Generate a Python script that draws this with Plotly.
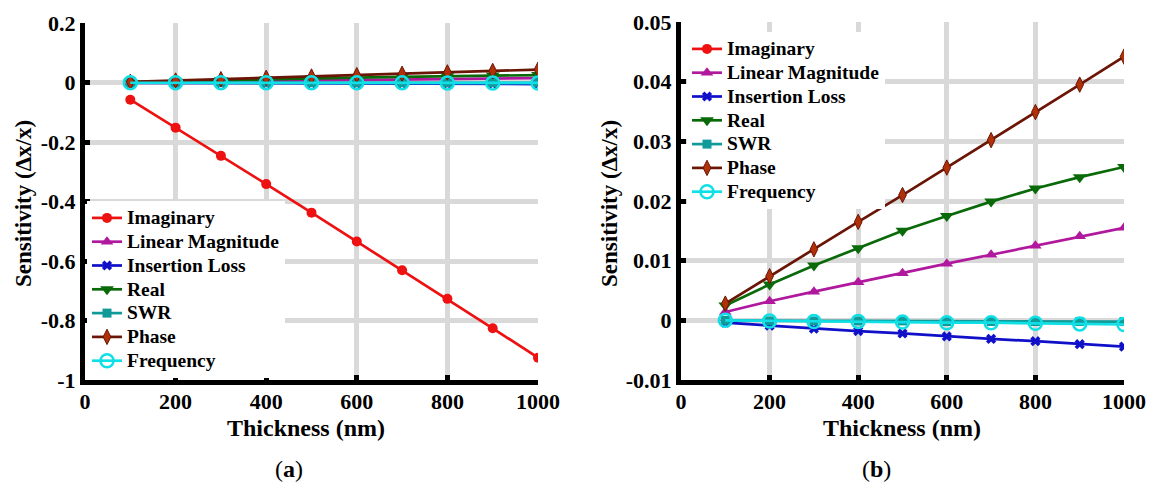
import plotly.graph_objects as go

thickness = [100, 200, 300, 400, 500, 600, 700, 800, 900, 1000]

imaginary = [-0.057, -0.151, -0.246, -0.341, -0.437, -0.534, -0.631, -0.727, -0.826, -0.925]
linear_magnitude = [0.0014, 0.0032, 0.0048, 0.0064, 0.0079, 0.0095, 0.0110, 0.0125, 0.0141, 0.0155]
insertion_loss = [-0.0004, -0.0009, -0.0014, -0.0018, -0.0022, -0.0027, -0.0031, -0.0035, -0.0040, -0.0044]
real = [0.0025, 0.0060, 0.0092, 0.0121, 0.0150, 0.0175, 0.0199, 0.0221, 0.0240, 0.0257]
swr = [0.0000, -0.0001, -0.0001, -0.0001, -0.0001, -0.0002, -0.0002, -0.0002, -0.0002, -0.0002]
phase = [0.0028, 0.0074, 0.0119, 0.0165, 0.0210, 0.0256, 0.0302, 0.0349, 0.0395, 0.0442]
frequency = [0.0000, -0.0001, -0.0002, -0.0002, -0.0003, -0.0004, -0.0004, -0.0005, -0.0006, -0.0007]

x_ticks = [0, 200, 400, 600, 800, 1000]
x_ticktext = ["0", "200", "400", "600", "800", "1000"]
ya_ticks = [0.2, 0, -0.2, -0.4, -0.6, -0.8, -1]
ya_ticktext = ["0.2", "0", "-0.2", "-0.4", "-0.6", "-0.8", "-1"]
yb_ticks = [0.05, 0.04, 0.03, 0.02, 0.01, 0, -0.01]
yb_ticktext = ["0.05", "0.04", "0.03", "0.02", "0.01", "0", "-0.01"]

series = [
    ("Imaginary", imaginary, dict(color="#ee1111", symbol="circle", size=10, line=dict(width=0)), "#ee1111"),
    ("Linear Magnitude", linear_magnitude, dict(color="#b0189e", symbol="triangle-up", size=11, line=dict(width=0)), "#b0189e"),
    ("Insertion Loss", insertion_loss, dict(color="#1010c8", symbol="x", size=9, line=dict(width=0)), "#1010c8"),
    ("Real", real, dict(color="#0a6a0a", symbol="triangle-down", size=12, line=dict(width=0)), "#0a6a0a"),
    ("SWR", swr, dict(color="#119a9a", symbol="square", size=9, line=dict(width=0)), "#119a9a"),
    ("Phase", phase, dict(color="#b03008", symbol="diamond-tall", size=11, line=dict(width=1, color="#6a1505")), "#6a1505"),
    ("Frequency", frequency, dict(color="#10e0e6", symbol="circle-open", size=13, line=dict(width=2.5)), "#10e0e6"),
]

FONT = "Liberation Serif, Times New Roman, serif"
LEGEND_TEXT = '<span style="font-size:19.5px">{}</span>'

fig = go.Figure()
for xa, ya, leg in [("x", "y", "legend"), ("x2", "y2", "legend2")]:
    for name, vals, mk, lc in series:
        fig.add_trace(go.Scatter(
            x=thickness, y=vals, name=LEGEND_TEXT.format(name), mode="lines+markers",
            line=dict(color=lc, width=2.7), marker=mk,
            xaxis=xa, yaxis=ya, legend=leg, cliponaxis=True,
        ))

axis_common = dict(
    showline=True, linecolor="black", linewidth=5, mirror=False,
    showgrid=True, gridcolor="#d9d9d9", gridwidth=5,
    ticks="inside", ticklen=5, tickwidth=5, tickcolor="black",
    zeroline=False, automargin=False,
    tickfont=dict(family=FONT, size=22, color="black", weight="bold"),
    tickmode="array",
)
xaxis_extra = dict(ticklabelstandoff=-2)

legend_common = dict(xanchor="left", yanchor="top", bgcolor="white", borderwidth=0,
                     tracegroupgap=0, itemwidth=30,
                     font=dict(family=FONT, size=16, color="black", weight="bold"))

fig.update_layout(
    width=1151, height=488,
    margin=dict(l=0, r=0, t=0, b=0),
    paper_bgcolor="white", plot_bgcolor="white",
    showlegend=True,
    xaxis=dict(domain=[85 / 1151, 538 / 1151], range=[0, 1000], anchor="y",
               tickvals=x_ticks, ticktext=x_ticktext, **axis_common, **xaxis_extra),
    yaxis=dict(domain=[1 - 380 / 488, 1 - 23.3 / 488], range=[-1, 0.2], anchor="x",
               tickvals=ya_ticks, ticktext=ya_ticktext, **axis_common),
    xaxis2=dict(domain=[681 / 1151, 1124 / 1151], range=[0, 1000], anchor="y2",
                tickvals=x_ticks, ticktext=x_ticktext, **axis_common, **xaxis_extra),
    yaxis2=dict(domain=[1 - 380 / 488, 1 - 22 / 488], range=[-0.01, 0.05], anchor="x2",
                tickvals=yb_ticks, ticktext=yb_ticktext, **axis_common),
    legend=dict(x=87 / 1151, y=1 - 201 / 488, **legend_common),
    legend2=dict(x=687 / 1151, y=1 - 32 / 488, **legend_common),
)

ann_font = dict(family=FONT, size=24, color="black", weight="bold")
yt_font = dict(family=FONT, size=23, color="black", weight="bold")
annotations = [
    dict(text="Thickness (nm)", x=306 / 1151, y=1 - 428 / 488, font=ann_font),
    dict(text="Thickness (nm)", x=902 / 1151, y=1 - 428 / 488, font=ann_font),
    dict(text="Sensitivity (\u0394x/x)", x=23 / 1151, y=1 - 204 / 488, textangle=-90, font=yt_font),
    dict(text="Sensitivity (\u0394x/x)", x=609 / 1151, y=1 - 204 / 488, textangle=-90, font=yt_font),
]
for a in annotations:
    fig.add_annotation(xref="paper", yref="paper", xanchor="center", yanchor="middle",
                       showarrow=False, **a)

cap_font = dict(family=FONT, size=24, color="black")
fig.add_annotation(text="(<b>a</b>)", x=289 / 1151, y=1 - 469 / 488, xref="paper", yref="paper",
                   showarrow=False, font=cap_font, xanchor="center", yanchor="middle")
fig.add_annotation(text="(<b>b</b>)", x=876 / 1151, y=1 - 469 / 488, xref="paper", yref="paper",
                   showarrow=False, font=cap_font, xanchor="center", yanchor="middle")

fig.write_html("out.html")
